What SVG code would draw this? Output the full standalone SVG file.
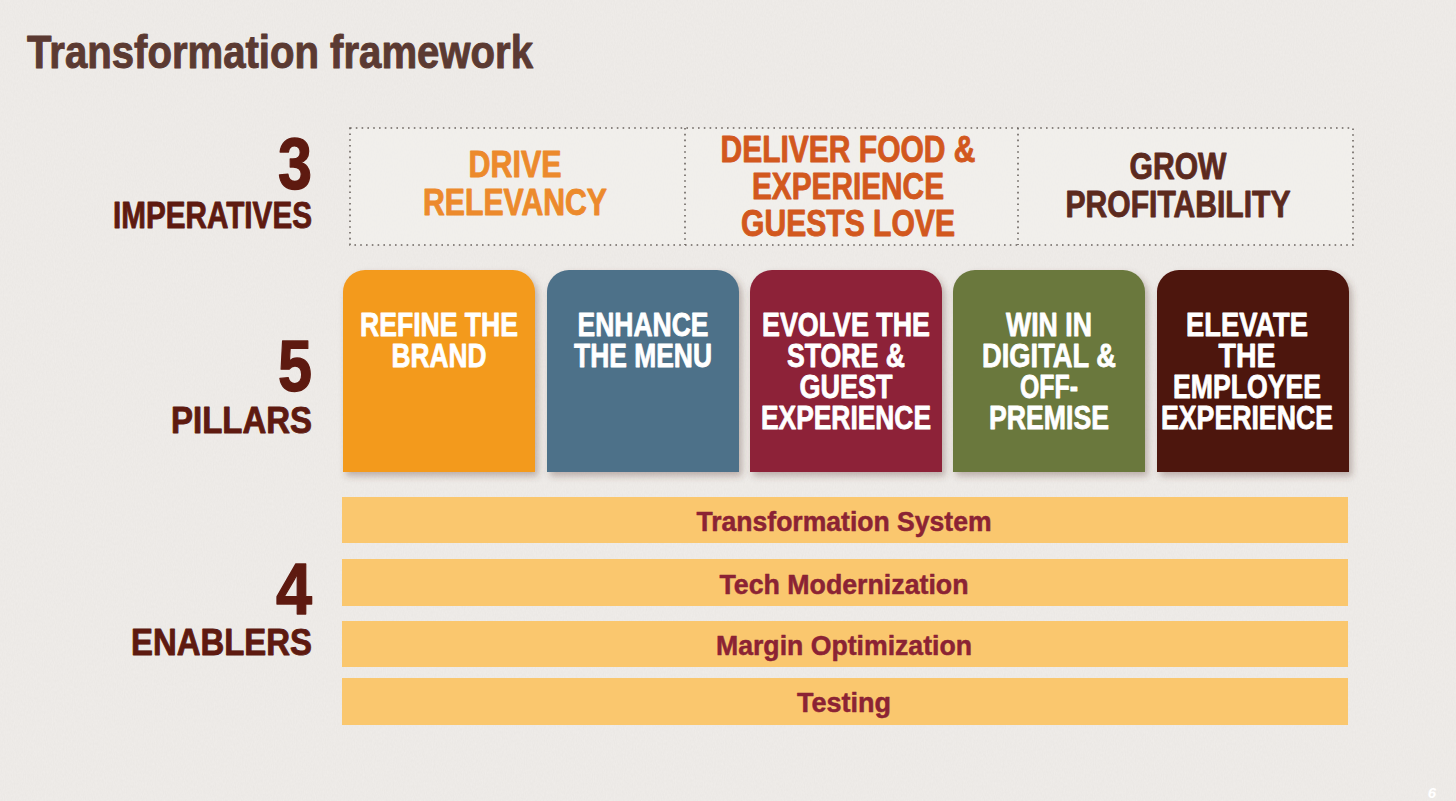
<svg xmlns="http://www.w3.org/2000/svg" xmlns:xlink="http://www.w3.org/1999/xlink" width="1456" height="801" viewBox="0 0 1456 801">
<style>
  text { font-family: "Liberation Sans", Arial, sans-serif; font-weight: bold; stroke-linejoin: round; }
  .lbl { fill: #5E1A10; stroke: #5E1A10; stroke-width: 0.9; text-anchor: end; }
  .num { font-size: 72px; stroke-width: 1.4; }
  .cap { font-size: 37px; }
  .imp { font-size: 36px; text-anchor: middle; stroke-width: 0.9; }
  .pt { fill: #FFFFFF; stroke: #FFFFFF; stroke-width: 0.8; font-size: 33px; text-anchor: middle; }
  .bar { fill: #FAC76E; }
  .bt { fill: #8B2334; stroke: #8B2334; stroke-width: 0.5; font-size: 28px; text-anchor: middle; }
  .div { stroke: #6B6460; stroke-width: 1.6; stroke-dasharray: 1.6 4.2; fill: none; }
</style>
<defs>
  <filter id="tex" x="0" y="0" width="100%" height="100%">
    <feTurbulence type="fractalNoise" baseFrequency="0.9 0.35" numOctaves="3" seed="4" result="n"/>
    <feColorMatrix type="matrix" values="0 0 0 0 0.55  0 0 0 0 0.53  0 0 0 0 0.5  0 0 0 0.14 0"/>
  </filter>
  <filter id="sh" x="-10%" y="-10%" width="125%" height="125%">
    <feDropShadow dx="3" dy="4" stdDeviation="3.5" flood-color="#5a3a30" flood-opacity="0.35"/>
  </filter>
  <path id="pillar" d="M0,202 V22 A22,22 0 0 1 22,0 H170 A22,22 0 0 1 192,22 V202 Z"/>
</defs>

<rect width="1456" height="801" fill="#F0EDEA"/>
<rect width="1456" height="801" filter="url(#tex)"/>

<g id="title">
  <text x="27" y="68" font-size="46" fill="#5B3A32" stroke="#5B3A32" stroke-width="1" textLength="506" lengthAdjust="spacingAndGlyphs">Transformation framework</text>
</g>

<g id="labels">
  <text class="lbl num" x="312" y="189" textLength="34" lengthAdjust="spacingAndGlyphs">3</text>
  <text class="lbl cap" x="312" y="228" textLength="199" lengthAdjust="spacingAndGlyphs">IMPERATIVES</text>
  <text class="lbl num" x="312" y="391" textLength="34" lengthAdjust="spacingAndGlyphs">5</text>
  <text class="lbl cap" x="312" y="433" textLength="141" lengthAdjust="spacingAndGlyphs">PILLARS</text>
  <text class="lbl num" x="312" y="614" textLength="36" lengthAdjust="spacingAndGlyphs">4</text>
  <text class="lbl cap" x="312" y="655" textLength="181" lengthAdjust="spacingAndGlyphs">ENABLERS</text>
</g>

<g id="imperatives">
  <rect x="350" y="128" width="1003" height="117" fill="#F4F2EF" fill-opacity="0.6"/>
  <rect class="div" x="350" y="128" width="1003" height="117"/>
  <line class="div" x1="685" y1="128" x2="685" y2="245"/>
  <line class="div" x1="1018" y1="128" x2="1018" y2="245"/>
  <g id="imp-drive" fill="#EC8A2C" stroke="#EC8A2C">
    <text class="imp" x="515" y="177" textLength="93" lengthAdjust="spacingAndGlyphs">DRIVE</text>
    <text class="imp" x="515" y="215" textLength="184" lengthAdjust="spacingAndGlyphs">RELEVANCY</text>
  </g>
  <g id="imp-deliver" fill="#D2581E" stroke="#D2581E">
    <text class="imp" x="848" y="162" textLength="255" lengthAdjust="spacingAndGlyphs">DELIVER FOOD &amp;</text>
    <text class="imp" x="848" y="199" textLength="192" lengthAdjust="spacingAndGlyphs">EXPERIENCE</text>
    <text class="imp" x="848" y="236" textLength="214" lengthAdjust="spacingAndGlyphs">GUESTS LOVE</text>
  </g>
  <g id="imp-grow" fill="#5C2A1E" stroke="#5C2A1E">
    <text class="imp" x="1178" y="179" textLength="97" lengthAdjust="spacingAndGlyphs">GROW</text>
    <text class="imp" x="1178" y="217" textLength="225" lengthAdjust="spacingAndGlyphs">PROFITABILITY</text>
  </g>
</g>

<g id="pillar-brand">
  <use href="#pillar" x="343" y="270" fill="#F39A1E" filter="url(#sh)"/>
  <text class="pt" x="439" y="336" textLength="158" lengthAdjust="spacingAndGlyphs">REFINE THE</text>
  <text class="pt" x="439" y="367" textLength="95" lengthAdjust="spacingAndGlyphs">BRAND</text>
</g>
<g id="pillar-menu">
  <use href="#pillar" x="547" y="270" fill="#4E7189" filter="url(#sh)"/>
  <text class="pt" x="643" y="336" textLength="131" lengthAdjust="spacingAndGlyphs">ENHANCE</text>
  <text class="pt" x="643" y="367" textLength="138" lengthAdjust="spacingAndGlyphs">THE MENU</text>
</g>
<g id="pillar-store">
  <use href="#pillar" x="750" y="270" fill="#8D2439" filter="url(#sh)"/>
  <text class="pt" x="846" y="336" textLength="168" lengthAdjust="spacingAndGlyphs">EVOLVE THE</text>
  <text class="pt" x="846" y="367" textLength="118" lengthAdjust="spacingAndGlyphs">STORE &amp;</text>
  <text class="pt" x="846" y="398" textLength="93" lengthAdjust="spacingAndGlyphs">GUEST</text>
  <text class="pt" x="846" y="429" textLength="170" lengthAdjust="spacingAndGlyphs">EXPERIENCE</text>
</g>
<g id="pillar-digital">
  <use href="#pillar" x="953" y="270" fill="#6A783E" filter="url(#sh)"/>
  <text class="pt" x="1049" y="336" textLength="86" lengthAdjust="spacingAndGlyphs">WIN IN</text>
  <text class="pt" x="1049" y="367" textLength="134" lengthAdjust="spacingAndGlyphs">DIGITAL &amp;</text>
  <text class="pt" x="1049" y="398" textLength="58" lengthAdjust="spacingAndGlyphs">OFF-</text>
  <text class="pt" x="1049" y="429" textLength="120" lengthAdjust="spacingAndGlyphs">PREMISE</text>
</g>
<g id="pillar-employee">
  <use href="#pillar" x="1157" y="270" fill="#4E1209" filter="url(#sh)"/>
  <text class="pt" x="1247" y="336" textLength="122" lengthAdjust="spacingAndGlyphs">ELEVATE</text>
  <text class="pt" x="1247" y="367" textLength="57" lengthAdjust="spacingAndGlyphs">THE</text>
  <text class="pt" x="1247" y="398" textLength="148" lengthAdjust="spacingAndGlyphs">EMPLOYEE</text>
  <text class="pt" x="1247" y="429" textLength="172" lengthAdjust="spacingAndGlyphs">EXPERIENCE</text>
</g>

<g id="enabler-system">
  <rect class="bar" x="342" y="497" width="1006" height="46"/>
  <text class="bt" x="844" y="531" textLength="295" lengthAdjust="spacingAndGlyphs">Transformation System</text>
</g>
<g id="enabler-tech">
  <rect class="bar" x="342" y="559" width="1006" height="47"/>
  <text class="bt" x="844" y="594" textLength="249" lengthAdjust="spacingAndGlyphs">Tech Modernization</text>
</g>
<g id="enabler-margin">
  <rect class="bar" x="342" y="621" width="1006" height="46"/>
  <text class="bt" x="844" y="655" textLength="256" lengthAdjust="spacingAndGlyphs">Margin Optimization</text>
</g>
<g id="enabler-testing">
  <rect class="bar" x="342" y="678" width="1006" height="47"/>
  <text class="bt" x="844" y="712" textLength="94" lengthAdjust="spacingAndGlyphs">Testing</text>
</g>

<g id="connectors"></g>

<text x="1432" y="798" font-size="15" font-style="italic" fill="#FFFFFF" text-anchor="middle">6</text>
</svg>
